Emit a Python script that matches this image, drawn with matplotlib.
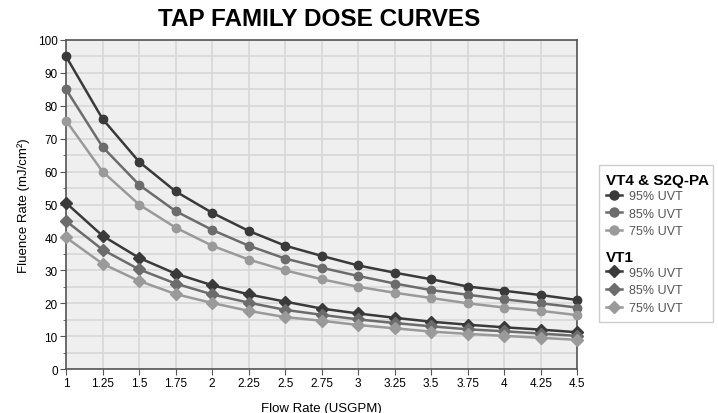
import matplotlib.pyplot as plt
from matplotlib.lines import Line2D
from matplotlib.patches import Rectangle

plt.rcParams["font.family"] = ["Liberation Sans", "DejaVu Sans"]

flow = [1, 1.25, 1.5, 1.75, 2, 2.25, 2.5, 2.75, 3, 3.25, 3.5, 3.75, 4, 4.25, 4.5]
flow_labels = ["1", "1.25", "1.5", "1.75", "2", "2.25", "2.5", "2.75", "3",
               "3.25", "3.5", "3.75", "4", "4.25", "4.5"]

vt4_95 = [95, 76, 63, 54, 47.5, 42, 37.5, 34.4, 31.5, 29.3, 27.3, 25.1, 23.8, 22.5, 21]
vt4_85 = [85, 67.5, 56, 48, 42.3, 37.5, 33.6, 30.8, 28.3, 26, 24, 22.6, 21.2, 20, 18.7]
vt4_75 = [75.5, 60, 50, 43, 37.5, 33.3, 30, 27.3, 25, 23.2, 21.6, 20, 18.7, 17.7, 16.4]
vt1_95 = [50.5, 40.5, 33.8, 29, 25.5, 22.7, 20.5, 18.4, 16.9, 15.6, 14.4, 13.5, 12.7, 12, 11.2]
vt1_85 = [45, 36.3, 30.3, 26, 22.7, 20.2, 18, 16.5, 15.1, 14, 13, 12.1, 11.5, 10.8, 10.1]
vt1_75 = [40, 32, 26.8, 22.8, 20.1, 17.7, 15.8, 14.7, 13.4, 12.4, 11.4, 10.7, 10.1, 9.5, 8.9]

uvt_labels = ["95% UVT", "85% UVT", "75% UVT"]
colors = ["#3a3a3a", "#6c6c6c", "#9a9a9a"]

fig = plt.figure(figsize=(7.18, 4.14), dpi=100)
ax = fig.add_axes([0.092, 0.106, 0.712, 0.795])
ax.set_facecolor("#efefef")

for ys, c in zip([vt4_95, vt4_85, vt4_75], colors):
    ax.plot(flow, ys, color=c, lw=1.8, marker="o", ms=6, clip_on=False, zorder=3)
for ys, c in zip([vt1_95, vt1_85, vt1_75], colors):
    ax.plot(flow, ys, color=c, lw=1.8, marker="D", ms=6, clip_on=False, zorder=3)

ax.set_xlim(1, 4.5)
ax.set_ylim(0, 100)
ax.set_xticks(flow)
ax.set_xticklabels(flow_labels)
ax.set_yticks(range(0, 101, 10))
ax.set_yticks(range(5, 100, 10), minor=True)
ax.grid(True, which="both", color="#d8d8d8", lw=1.2)
ax.set_axisbelow(True)
for s in ax.spines.values():
    s.set_color("#555555")
    s.set_linewidth(1.2)
ax.tick_params(axis="both", which="major", labelsize=8.5, length=4, color="#555555",
               pad=2)
ax.tick_params(axis="y", which="minor", length=2, color="#555555")

ax.set_xlabel("Flow Rate (USGPM)", fontsize=9.5, labelpad=9)
ax.set_ylabel("Fluence Rate (mJ/cm²)", fontsize=9.5, labelpad=6)
fig.text(0.444, 0.952, "TAP FAMILY DOSE CURVES", fontsize=17.5, fontweight="bold",
         ha="center", va="center")

# legend: two groups inside one light frame
fig.patches.append(Rectangle((0.834, 0.22), 0.159, 0.379, transform=fig.transFigure,
                             facecolor="white", edgecolor="#cccccc", lw=1))
groups = [("VT4 & S2Q-PA", "o", 0.6), ("VT1", "D", 0.415)]
for title, mk, top in groups:
    handles = [Line2D([], [], color=c, lw=1.8, marker=mk, ms=6.5) for c in colors]
    leg = fig.legend(handles, uvt_labels, title=title, loc="upper left",
                     bbox_to_anchor=(0.832, top), frameon=False, fontsize=9,
                     handlelength=1.3, handletextpad=0.5, labelspacing=0.45,
                     borderpad=0.2, labelcolor="#555555", alignment="left",
                     title_fontproperties={"weight": "bold", "size": 11})
    leg._legend_box.sep = 2

fig.savefig("out.png", dpi=100)
